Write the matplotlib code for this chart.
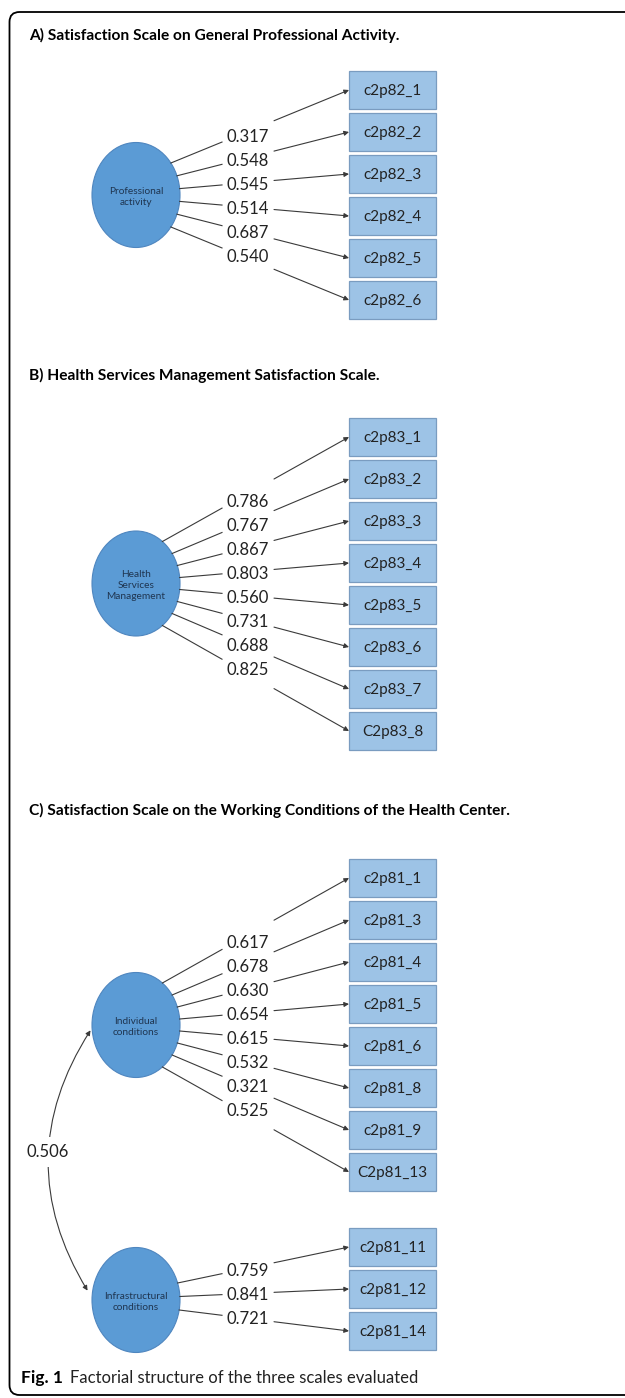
import numpy as np
import matplotlib.pyplot as plt
from matplotlib.patches import Ellipse, Rectangle, FancyBboxPatch, FancyArrowPatch

# data
titles = ['A) Satisfaction Scale on General Professional Activity.',
          'B) Health Services Management Satisfaction Scale.',
          'C) Satisfaction Scale on the Working Conditions of the Health Center.']

factor_a = 'Professional\nactivity'
items_a = ['c2p82_1', 'c2p82_2', 'c2p82_3', 'c2p82_4', 'c2p82_5', 'c2p82_6']
loads_a = [0.317, 0.548, 0.545, 0.514, 0.687, 0.540]

factor_b = 'Health\nServices\nManagement'
items_b = ['c2p83_1', 'c2p83_2', 'c2p83_3', 'c2p83_4', 'c2p83_5', 'c2p83_6',
           'c2p83_7', 'C2p83_8']
loads_b = [0.786, 0.767, 0.867, 0.803, 0.560, 0.731, 0.688, 0.825]

factor_c1 = 'Individual\nconditions'
items_c1 = ['c2p81_1', 'c2p81_3', 'c2p81_4', 'c2p81_5', 'c2p81_6', 'c2p81_8',
            'c2p81_9', 'C2p81_13']
loads_c1 = [0.617, 0.678, 0.630, 0.654, 0.615, 0.532, 0.321, 0.525]

factor_c2 = 'Infrastructural\nconditions'
items_c2 = ['c2p81_11', 'c2p81_12', 'c2p81_14']
loads_c2 = [0.759, 0.841, 0.721]

corr_c = 0.506

FONT = ['Lato', 'DejaVu Sans']
LINE = '#3a3a3a'
BOX_FILL = '#9DC3E6'
BOX_EDGE = '#7A9CC0'
CIRC_FILL = '#5B9BD5'
CIRC_EDGE = '#4F86BF'

fig = plt.figure(figsize=(6.25, 13.98), dpi=100)
ax = fig.add_axes([0, 0, 1, 1])
ax.set_xlim(0, 625)
ax.set_ylim(1398, 0)
ax.axis('off')

# outer frame (right side runs off the page)
ax.add_patch(FancyBboxPatch((9.5, 12), 700, 1383,
                            boxstyle='round,pad=0,rounding_size=10',
                            fc='white', ec='black', lw=1.3))


def panel(factor, items, loads, cy, box_top, lab_top, dys):
    cx, rx, ry = 136, 44, 52.5
    ax.add_patch(Ellipse((cx, cy), 2 * rx, 2 * ry, fc=CIRC_FILL, ec=CIRC_EDGE, lw=0.8))
    ax.text(cx, cy + 2, factor, ha='center', va='center', fontsize=7.3,
            color='#1f3550', family=FONT, linespacing=1.3)
    bx, bw, bh = 349, 87, 38
    for i, (item, val) in enumerate(zip(items, loads)):
        top = box_top + i * 42
        by = top + bh / 2
        ax.add_patch(Rectangle((bx, top), bw, bh, fc=BOX_FILL, ec=BOX_EDGE, lw=0.9))
        ax.text(bx + bw / 2, by + 1, item, ha='center', va='center', fontsize=11,
                color='#222222', family=FONT)
        # path from ellipse edge to box, broken where the label sits
        dy = dys[i]
        sx = cx + rx * np.sqrt(1 - (dy / ry) ** 2)
        sy = cy + dy

        def yat(x):
            return sy + (by - sy) * (x - sx) / (bx - sx)
        ax.plot([sx, 222], [sy, yat(222)], color=LINE, lw=0.8)
        ax.annotate('', xy=(bx, by), xytext=(274, yat(274)),
                    arrowprops=dict(arrowstyle='-|>', color=LINE, lw=0.8,
                                    mutation_scale=7, shrinkA=0, shrinkB=0))
        ax.text(248, lab_top + i * 24, f'{val:.3f}', ha='center', va='center',
                fontsize=12, color='#222222', family=FONT)


title_y = [35, 375, 810]
for t, y in zip(titles, title_y):
    ax.text(29, y, t, ha='left', va='center', fontsize=11.2, fontweight='bold',
            family=FONT)

panel(factor_a, items_a, loads_a, 195, 71, 137, np.linspace(-32, 32, 6))
panel(factor_b, items_b, loads_b, 583.5, 418, 502, np.linspace(-42, 42, 8))
panel(factor_c1, items_c1, loads_c1, 1025, 859, 943, np.linspace(-42, 42, 8))
panel(factor_c2, items_c2, loads_c2, 1300, 1228, 1271, np.linspace(-17, 10, 3))

# correlation between the two factors of scale C
ax.add_patch(FancyArrowPatch((92, 1028), (89, 1293), connectionstyle='arc3,rad=0.317',
                             arrowstyle='<|-|>', mutation_scale=7, color=LINE, lw=0.8))
ax.text(48, 1152, f'{corr_c:.3f}', ha='center', va='center', fontsize=12,
        color='#222222', family=FONT,
        bbox=dict(fc='white', ec='none', pad=5))

ax.text(21, 1378, 'Fig. 1', ha='left', va='center', fontsize=12.5, fontweight='bold',
        family=FONT)
ax.text(70, 1378, 'Factorial structure of the three scales evaluated', ha='left',
        va='center', fontsize=12, family=FONT, color='#222222')

fig.savefig('out.png', dpi=100)
